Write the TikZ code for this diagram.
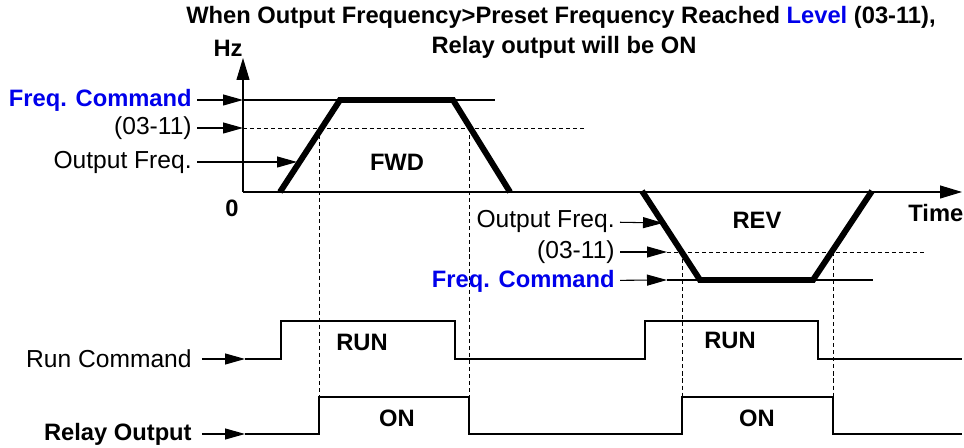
\documentclass[tikz,border=0pt]{standalone}
\usepackage{fontspec}
\setmainfont{Liberation Sans}
\usetikzlibrary{arrows.meta}
\definecolor{cmdblue}{RGB}{0,0,235}

\begin{document}
\begin{tikzpicture}[x=0.02cm,y=-0.02cm,
  font=\fontsize{14}{16}\selectfont,
  wire/.style={line width=0.6pt},
  ramp/.style={line width=3.4pt},
  guide/.style={line width=0.5pt,dash pattern=on 2.3pt off 1.7pt},
  pointer/.style={wire,shorten <=0.1cm,-{Triangle[length=0.4cm,width=0.22cm]}},
  axis/.style={wire,-{Triangle[length=0.44cm,width=0.26cm]}},
  lbl/.style={anchor=east,inner sep=0pt},
  tag/.style={font=\fontsize{13.5}{16}\selectfont\bfseries}]

\useasboundingbox (0,0) rectangle (964,448);

% Title
\node[tag] (title1) at (561,17) {When Output Frequency>Preset Frequency Reached \textcolor{cmdblue}{Level} (03-11),};
\node[tag] (title2) at (564,47) {Relay output will be ON};

% Axes
\coordinate (o) at (243,192);
\coordinate (ytop) at (243,58);
\coordinate (xend) at (962,192);
\draw[axis] (o) -- (ytop);
\draw[axis] (o) -- (xend);
\node[tag] (hz) at (228,48) {Hz};
\node[tag] (zero) at (232,208) {0};
\node[tag,anchor=west,inner sep=0pt] (time) at (908,213) {Time};

% Forward run
\draw[wire] (243,100) -- (495,100);
\draw[guide] (243,128) -- (584,128);
\draw[ramp] (280,192) -- (340,100) -- (453,100) -- (510,192);
\node[tag] (fwd) at (397,162) {FWD};

\node[lbl,tag,text=cmdblue] (cmdF) at (192,100) {Freq. Command};
\node[lbl] (levF) at (192,128) {(03-11)};
\node[lbl] (outF) at (192,162) {Output Freq.};
\coordinate (cmdFend) at (243,100);
\coordinate (levFend) at (243,128);
\coordinate (outFend) at (297,162);
\draw[pointer] (cmdF) -- (cmdFend);
\draw[pointer] (levF) -- (levFend);
\draw[pointer] (outF) -- (outFend);

% Reverse run
\draw[wire] (667,280) -- (873,280);
\draw[guide] (667,252) -- (927,252);
\draw[ramp] (642,191) -- (700,280) -- (813,280) -- (872,191);
\node[tag] (rev) at (757,220) {REV};

\node[lbl] (outR) at (615,221) {Output Freq.};
\node[lbl] (levR) at (615,252) {(03-11)};
\node[lbl,tag,text=cmdblue] (cmdR) at (615,281) {Freq. Command};
\coordinate (outRend) at (663,223);
\coordinate (levRend) at (667,252);
\coordinate (cmdRend) at (667,280);
\draw[pointer] (outR) -- (outRend);
\draw[pointer] (levR) -- (levRend);
\draw[pointer] (cmdR) -- (cmdRend);

% Run command and relay output
\node[lbl] (runcmd) at (192,359) {Run Command};
\node[lbl,tag] (relay) at (192,434) {Relay Output};
\coordinate (run0) at (245,359);
\coordinate (rel0) at (245,434);
\draw[pointer,shorten <=0.2cm] (runcmd) -- (run0);
\draw[pointer,shorten <=0.2cm] (relay) -- (rel0);

\draw[wire] (run0) -| (281,321) -| (455,359) -| (645,321) -| (818,359) -- (962,359);
\draw[wire] (rel0) -| (319,397) -| (469,434) -| (682,397) -| (833,434) -- (962,434);

\foreach \x/\y in {319/128,469/128,682/252,833/252}
    \draw[guide] (\x,\y) -- (\x,397);

\foreach \x/\y/\t in {362/342/RUN,730/340/RUN,397/418/ON,757/418/ON}
    \node[tag] at (\x,\y) {\t};

\end{tikzpicture}
\end{document}
